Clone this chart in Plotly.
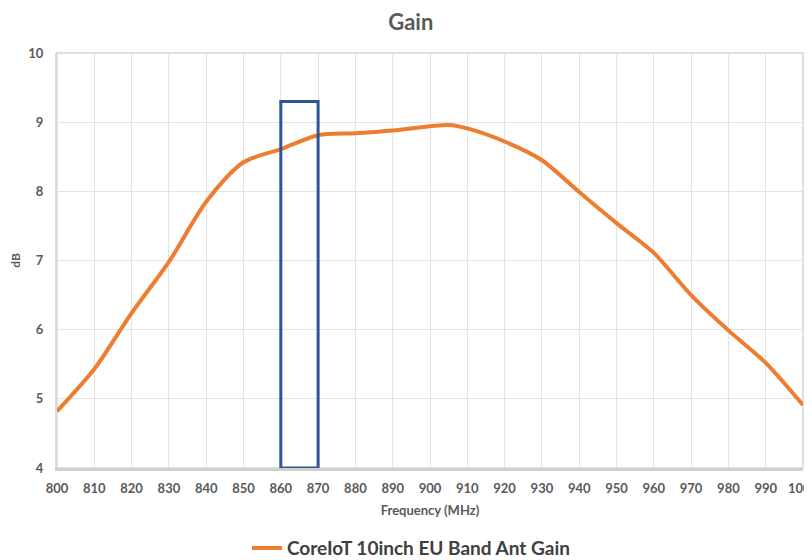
import plotly.graph_objects as go

freq = [800, 810, 820, 830, 840, 850, 860, 870, 880, 890, 900, 905, 910, 920, 930, 940, 950, 960, 970, 980, 990, 1000]
gain = [4.82, 5.43, 6.24, 6.98, 7.85, 8.42, 8.61, 8.81, 8.84, 8.88, 8.94, 8.96, 8.91, 8.72, 8.45, 7.99, 7.54, 7.11, 6.50, 5.99, 5.52, 4.91]
series_name = "CoreIoT 10inch EU Band Ant Gain"
band_freq = [860, 870]
band_gain = [4, 9.3]
x_ticks = list(range(800, 1001, 10))
y_ticks = [4, 5, 6, 7, 8, 9, 10]

FONT = "Lato"
GREY = "#595959"

fig = go.Figure()
fig.add_trace(go.Scatter(
    x=freq, y=gain, mode="lines", name=series_name,
    line=dict(color="#ED7D31", width=4, shape="spline", smoothing=0.8),
))
fig.add_shape(type="rect", xref="x", yref="y",
              x0=band_freq[0], x1=band_freq[1], y0=band_gain[0], y1=band_gain[1],
              line=dict(color="#2F5597", width=3), fillcolor="rgba(0,0,0,0)")

fig.update_layout(
    width=804, height=552,
    margin=dict(l=49, r=9, t=45, b=92, autoexpand=False),
    paper_bgcolor="white", plot_bgcolor="white",
    title=dict(text="<b>Gain</b>", x=0.501, xanchor="center", y=1 - 14 / 552, yanchor="middle",
               font=dict(family=FONT, size=22, color=GREY)),
    font=dict(family=FONT, color=GREY),
    showlegend=True,
    legend=dict(orientation="h", x=0.4745, xanchor="center", y=-0.193, yanchor="middle",
                font=dict(family=FONT, size=19, color="#404040", weight="bold")),
    xaxis=dict(range=[800, 1000], tickvals=x_ticks, ticktext=[str(v) for v in x_ticks],
               automargin=False, ticklabeloverflow="allow",
               showgrid=True, gridcolor="#E3E3E3", gridwidth=1,
               showline=True, linecolor="#D0D0D0", linewidth=3, mirror=False,
               tickfont=dict(family=FONT, size=13, color=GREY, weight="bold"),
               ticks="", zeroline=False, ticklabelstandoff=6,
               title=dict(text="<b>Frequency (MHz)</b>", font=dict(family=FONT, size=13, color=GREY), standoff=12)),
    yaxis=dict(range=[4, 10], tickvals=y_ticks, automargin=False,
               showgrid=True, gridcolor="#E3E3E3", gridwidth=1,
               showline=True, linecolor="#DADADA", linewidth=2,
               tickfont=dict(family=FONT, size=13, color=GREY, weight="bold"),
               ticks="", zeroline=False, ticklabelstandoff=9,
               title=dict(text="<b>dB</b>", font=dict(family=FONT, size=12, color=GREY), standoff=10)),
)
fig.add_shape(type="rect", xref="paper", yref="paper", x0=0, x1=1, y0=0, y1=1,
              line=dict(color="#E0E0E0", width=2), layer="below")

fig.write_html("out.html")
